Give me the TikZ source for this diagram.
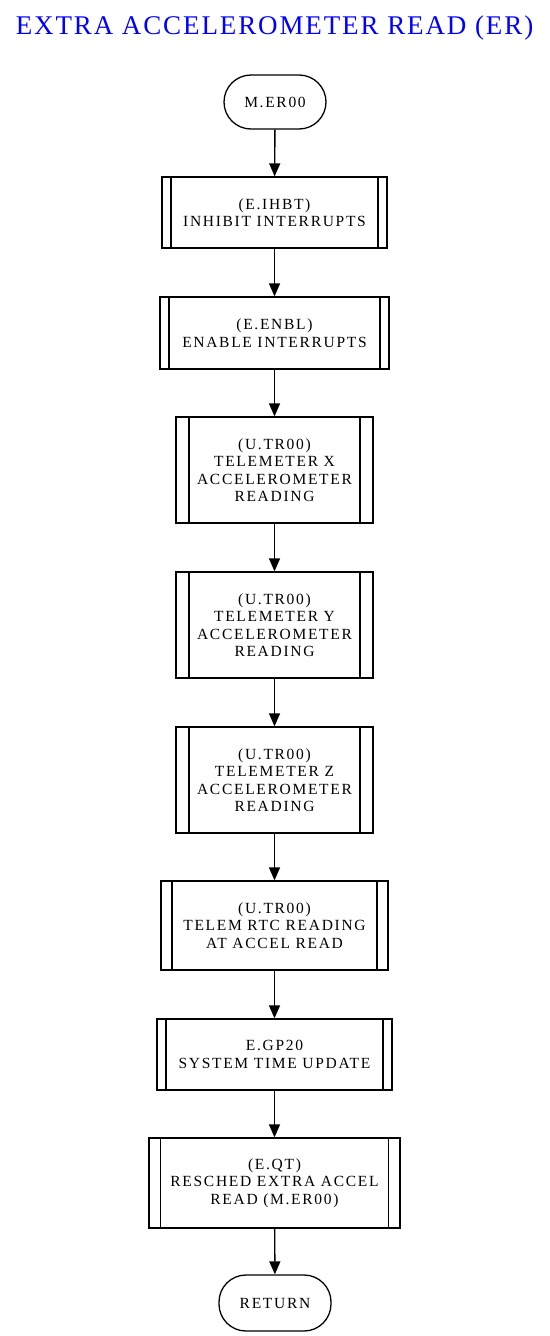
\documentclass[tikz,border=0pt]{standalone}
\usepackage{fontspec}
\setmainfont{Liberation Serif}[LetterSpace=11]
\newfontfamily\titlefont{Liberation Serif}[LetterSpace=7]
\usetikzlibrary{arrows.meta}
\definecolor{titleblue}{RGB}{0,0,255}
\tikzset{
  x=1pt,y=-1pt,
  base/.style={draw,line width=1.3pt,inner sep=0pt,align=center,font=\fontsize{15.5}{17.5}\selectfont},
  term/.style={base,rounded corners=27pt},
  inset/.store in=\insetval, inset=9pt,
  proc/.style={base,rectangle,path picture={
    \draw[line width=1.3pt] ([xshift=\insetval]path picture bounding box.north west) -- ([xshift=\insetval]path picture bounding box.south west);
    \draw[line width=1.3pt] ([xshift=-\insetval]path picture bounding box.north east) -- ([xshift=-\insetval]path picture bounding box.south east);}},
  arr/.style={line width=1.4pt,-{Triangle[length=13pt,width=11pt]}}
}
\begin{document}
\begin{tikzpicture}
\useasboundingbox (0,0) rectangle (549,1336);
\node[text=titleblue,anchor=base,inner sep=0pt,font=\titlefont\fontsize{27}{30}\selectfont] (title) at (274.5,34) {EXTRA ACCELEROMETER READ (ER)};
\node[term,minimum width=102pt,minimum height=54pt] (start) at (275,102) {M.ER00};
\node[proc,inset=9pt,minimum width=225pt,minimum height=71pt] (ihbt) at (274.5,212.5) {(E.IHBT)\\INHIBIT INTERRUPTS};
\node[proc,inset=9pt,minimum width=229pt,minimum height=72pt] (enbl) at (274.5,333) {(E.ENBL)\\ENABLE INTERRUPTS};
\node[proc,inset=13pt,minimum width=197pt,minimum height=106pt] (trx) at (274.5,470) {(U.TR00)\\TELEMETER X\\ACCELEROMETER\\READING};
\node[proc,inset=13pt,minimum width=197pt,minimum height=106pt] (try) at (274.5,625) {(U.TR00)\\TELEMETER Y\\ACCELEROMETER\\READING};
\node[proc,inset=13pt,minimum width=197pt,minimum height=106pt] (trz) at (274.5,780) {(U.TR00)\\TELEMETER Z\\ACCELEROMETER\\READING};
\node[proc,inset=11pt,minimum width=227pt,minimum height=89pt] (rtc) at (274.5,925.5) {(U.TR00)\\TELEM RTC READING\\AT ACCEL READ};
\node[proc,inset=9pt,minimum width=235pt,minimum height=71pt] (gp20) at (274.5,1054.5) {E.GP20\\SYSTEM TIME UPDATE};
\node[proc,inset=11.5pt,minimum width=251pt,minimum height=90pt] (qt) at (274.5,1183) {(E.QT)\\RESCHED EXTRA ACCEL\\READ (M.ER00)};
\node[term,minimum width=112pt,minimum height=56pt] (ret) at (275,1303) {RETURN};
\draw[arr] (start) -- (ihbt);
\draw[arr] (ihbt) -- (enbl);
\draw[arr] (enbl) -- (trx);
\draw[arr] (trx) -- (try);
\draw[arr] (try) -- (trz);
\draw[arr] (trz) -- (rtc);
\draw[arr] (rtc) -- (gp20);
\draw[arr] (gp20) -- (qt);
\draw[arr] (qt) -- (ret);
\end{tikzpicture}
\end{document}
